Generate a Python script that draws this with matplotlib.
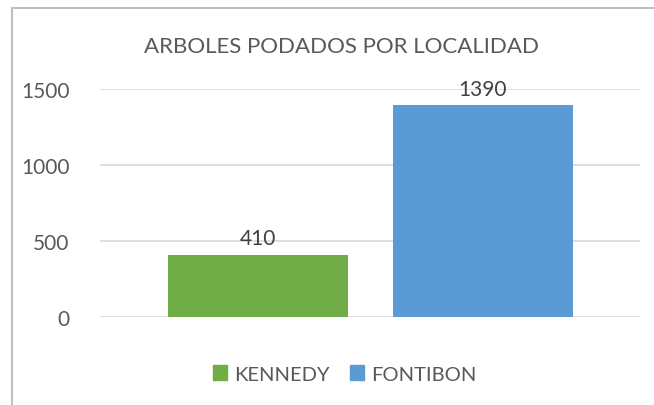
import matplotlib.pyplot as plt
from matplotlib.patches import Rectangle, Patch

localidades = ["KENNEDY", "FONTIBON"]
podados = [410, 1390]
colores = ["#70AD47", "#5B9BD5"]
yticks = [0, 500, 1000, 1500]

plt.rcParams['font.family'] = ['Lato', 'DejaVu Sans']
gris = "#595959"

fig = plt.figure(figsize=(6.54, 4.06), dpi=100)
ax = fig.add_axes([100 / 654, 1 - 318 / 406, 540 / 654, 228.5 / 406])

x = list(range(len(localidades)))
ax.bar(x, podados, width=0.8, color=colores, zorder=3)
for xi, v in zip(x, podados):
    ax.text(xi, v + 40, str(v), ha="center", va="bottom", fontsize=15, color="#404040")

ax.set_xlim(-0.7, 1.7)
ax.set_ylim(0, 1500)
ax.set_yticks(yticks)
ax.set_yticklabels([str(t) for t in yticks], fontsize=15, color=gris)
ax.set_xticks([])
ax.tick_params(axis="y", length=0, pad=22)
ax.grid(axis="y", color="#D9D9D9", linewidth=1.2, zorder=0)
for s in ax.spines.values():
    s.set_visible(False)

fig.text(341 / 654, 1 - 47 / 406, "ARBOLES PODADOS POR LOCALIDAD", ha="center", va="center",
         fontsize=16, color=gris)

handles = [Patch(color=c, label=l) for c, l in zip(colores, localidades)]
fig.legend(handles=handles, loc="center", bbox_to_anchor=(345 / 654, 1 - 375 / 406), ncol=2,
           frameon=False, fontsize=14.5, labelcolor=gris, handlelength=0.7, handleheight=0.7,
           handletextpad=0.35, columnspacing=1.0)

# marco del grafico
fig.patches.append(Rectangle((12 / 654, -0.1), 1.0, 1 - 9 / 406 + 0.1, transform=fig.transFigure,
                             fill=False, edgecolor="#BFBFBF", linewidth=1.5))

fig.savefig("out.png", dpi=100)
